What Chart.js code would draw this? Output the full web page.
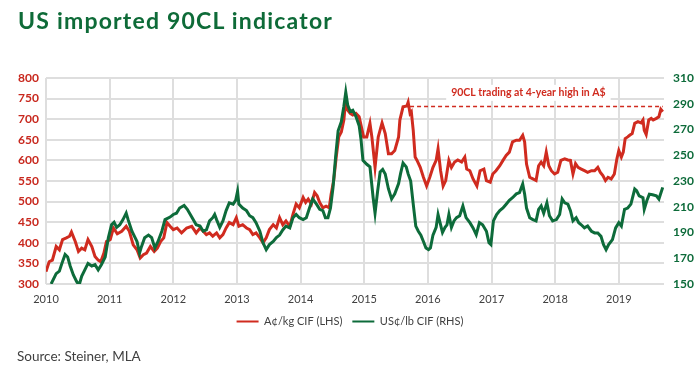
<!DOCTYPE html>
<html>
<head>
<meta charset="utf-8">
<script src="https://cdn.jsdelivr.net/npm/chart.js@4.4.1/dist/chart.umd.min.js"></script>
<style>
  body { margin: 0; background: #fff; }
  #wrap { position: relative; width: 700px; height: 373px; }
  #chartCanvas { position: absolute; left: 0; top: 0; }
  #title { position: absolute; left: 18px; top: 7px; font: bold 23px/1.2 Lato, sans-serif; letter-spacing: 1.2px; color: #0e6b38; white-space: nowrap; }
  #source { position: absolute; left: 17px; top: 348px; font: 13.5px/1.2 Lato, sans-serif; color: #404040; white-space: nowrap; }
</style>
</head>
<body>
<div id="wrap">
  <canvas id="chartCanvas" width="700" height="373"></canvas>
  <div id="title">US imported 90CL indicator</div>
  <div id="source">Source: Steiner, MLA</div>
</div>
<script>
var years = [2010, 2011, 2012, 2013, 2014, 2015, 2016, 2017, 2018, 2019];
var leftTicks = [300, 350, 400, 450, 500, 550, 600, 650, 700, 750, 800];
var rightTicks = [150, 170, 190, 210, 230, 250, 270, 290, 310];
var lastDate = 2019.71;

// A¢/kg CIF (LHS)
var audDates = [
  2010.00, 2010.05, 2010.10, 2010.16, 2010.21, 2010.26, 2010.32, 2010.37, 2010.40, 2010.46,
  2010.51, 2010.56, 2010.61, 2010.66, 2010.72, 2010.77, 2010.82, 2010.86, 2010.91, 2010.95,
  2011.01, 2011.06, 2011.12, 2011.19, 2011.26, 2011.31, 2011.37, 2011.43, 2011.48, 2011.53,
  2011.58, 2011.64, 2011.70, 2011.75, 2011.80, 2011.85, 2011.90, 2011.95, 2012.00, 2012.06,
  2012.13, 2012.21, 2012.29, 2012.36, 2012.42, 2012.47, 2012.52, 2012.57, 2012.62, 2012.68,
  2012.73, 2012.78, 2012.83, 2012.88, 2012.94, 2012.99, 2013.03, 2013.09, 2013.15, 2013.20,
  2013.25, 2013.30, 2013.36, 2013.41, 2013.46, 2013.51, 2013.57, 2013.62, 2013.67, 2013.72,
  2013.77, 2013.83, 2013.88, 2013.93, 2013.98, 2014.04, 2014.08, 2014.12, 2014.17, 2014.22,
  2014.26, 2014.30, 2014.35, 2014.40, 2014.45, 2014.48, 2014.52, 2014.56, 2014.60, 2014.64,
  2014.68, 2014.71, 2014.74, 2014.78, 2014.82, 2014.87, 2014.92, 2014.95, 2014.99, 2015.04,
  2015.09, 2015.12, 2015.17, 2015.22, 2015.28, 2015.33, 2015.38, 2015.43, 2015.48, 2015.54,
  2015.56, 2015.61, 2015.67, 2015.69, 2015.72, 2015.74, 2015.77, 2015.80, 2015.83, 2015.88,
  2015.93, 2015.98, 2016.03, 2016.08, 2016.13, 2016.16, 2016.20, 2016.24, 2016.28, 2016.33,
  2016.37, 2016.42, 2016.47, 2016.53, 2016.58, 2016.61, 2016.66, 2016.71, 2016.77, 2016.82,
  2016.88, 2016.92, 2016.98, 2017.02, 2017.07, 2017.13, 2017.18, 2017.23, 2017.28, 2017.33,
  2017.39, 2017.44, 2017.49, 2017.52, 2017.55, 2017.60, 2017.65, 2017.70, 2017.74, 2017.78,
  2017.82, 2017.86, 2017.90, 2017.94, 2017.99, 2018.04, 2018.09, 2018.15, 2018.20, 2018.24,
  2018.28, 2018.32, 2018.36, 2018.41, 2018.46, 2018.51, 2018.57, 2018.62, 2018.67, 2018.71,
  2018.75, 2018.79, 2018.83, 2018.88, 2018.93, 2018.97, 2019.00, 2019.04, 2019.07, 2019.10,
  2019.14, 2019.17, 2019.21, 2019.25, 2019.30, 2019.35, 2019.38, 2019.40, 2019.43, 2019.47,
  2019.51, 2019.54, 2019.59, 2019.63, 2019.66, 2019.69
];
var audValues = [
  330, 354, 358, 391, 383, 408, 412, 416, 426, 403,
  379, 387, 383, 408, 391, 367, 358, 354, 375, 403,
  408, 436, 422, 428, 440, 428, 395, 383, 363, 371,
  375, 391, 379, 387, 403, 412, 449, 440, 432, 436,
  424, 436, 440, 424, 436, 428, 420, 424, 416, 424,
  412, 420, 436, 449, 444, 461, 440, 444, 436, 432,
  420, 424, 412, 400, 412, 432, 444, 436, 461, 444,
  453, 440, 469, 494, 485, 510, 498, 506, 494, 522,
  514, 498, 485, 489, 485, 518, 551, 608, 657, 669,
  698, 748, 722, 714, 710, 714, 706, 685, 657, 657,
  690, 657, 583, 657, 691, 665, 616, 616, 624, 657,
  698, 730, 732, 741, 714, 718, 673, 608, 600, 583,
  559, 538, 559, 583, 600, 628, 575, 538, 551, 600,
  583, 596, 601, 596, 608, 579, 575, 555, 538, 575,
  579, 551, 547, 567, 575, 587, 600, 612, 620, 645,
  649, 649, 661, 645, 591, 559, 555, 551, 587, 596,
  587, 620, 587, 575, 567, 571, 600, 604, 601, 600,
  567, 592, 583, 579, 575, 571, 575, 575, 583, 571,
  563, 551, 559, 555, 567, 604, 624, 608, 620, 653,
  657, 661, 665, 690, 694, 691, 698, 673, 663, 698,
  702, 698, 702, 706, 724, 718
];

// US¢/lb CIF (RHS)
var usdDates = [
  2010.08, 2010.16, 2010.21, 2010.25, 2010.30, 2010.34, 2010.38, 2010.43, 2010.48, 2010.52,
  2010.56, 2010.61, 2010.66, 2010.72, 2010.77, 2010.82, 2010.87, 2010.93, 2010.98, 2011.03,
  2011.07, 2011.11, 2011.16, 2011.21, 2011.26, 2011.29, 2011.35, 2011.40, 2011.43, 2011.47,
  2011.50, 2011.55, 2011.61, 2011.66, 2011.71, 2011.76, 2011.82, 2011.87, 2011.95, 2012.00,
  2012.05, 2012.10, 2012.17, 2012.22, 2012.29, 2012.36, 2012.42, 2012.47, 2012.52, 2012.57,
  2012.62, 2012.65, 2012.68, 2012.73, 2012.78, 2012.83, 2012.88, 2012.94, 2012.98, 2013.01,
  2013.03, 2013.09, 2013.15, 2013.20, 2013.25, 2013.30, 2013.36, 2013.41, 2013.46, 2013.51,
  2013.57, 2013.62, 2013.67, 2013.72, 2013.77, 2013.83, 2013.88, 2013.93, 2013.98, 2014.04,
  2014.09, 2014.14, 2014.19, 2014.25, 2014.30, 2014.35, 2014.39, 2014.43, 2014.47, 2014.51,
  2014.55, 2014.59, 2014.64, 2014.68, 2014.71, 2014.74, 2014.78, 2014.82, 2014.87, 2014.92,
  2014.95, 2014.98, 2015.04, 2015.09, 2015.14, 2015.17, 2015.21, 2015.25, 2015.29, 2015.33,
  2015.38, 2015.43, 2015.48, 2015.54, 2015.57, 2015.61, 2015.66, 2015.69, 2015.73, 2015.77,
  2015.81, 2015.85, 2015.89, 2015.93, 2015.97, 2016.01, 2016.04, 2016.08, 2016.13, 2016.16,
  2016.20, 2016.23, 2016.27, 2016.30, 2016.33, 2016.37, 2016.41, 2016.45, 2016.50, 2016.55,
  2016.60, 2016.66, 2016.71, 2016.76, 2016.81, 2016.86, 2016.92, 2016.96, 2016.99, 2017.03,
  2017.08, 2017.13, 2017.18, 2017.23, 2017.28, 2017.33, 2017.39, 2017.44, 2017.49, 2017.52,
  2017.55, 2017.60, 2017.65, 2017.70, 2017.74, 2017.78, 2017.82, 2017.87, 2017.91, 2017.96,
  2018.02, 2018.07, 2018.11, 2018.15, 2018.20, 2018.24, 2018.28, 2018.33, 2018.37, 2018.41,
  2018.46, 2018.51, 2018.57, 2018.62, 2018.67, 2018.72, 2018.76, 2018.80, 2018.84, 2018.90,
  2018.95, 2019.00, 2019.04, 2019.09, 2019.14, 2019.19, 2019.25, 2019.28, 2019.32, 2019.38,
  2019.40, 2019.44, 2019.48, 2019.53, 2019.59, 2019.63, 2019.69
];
var usdValues = [
  150, 158, 160, 166, 173, 171, 164, 157, 152, 149,
  156, 161, 166, 164, 165, 161, 165, 171, 186, 196,
  198, 194, 196, 200, 205, 200, 191, 186, 183, 174,
  179, 186, 188, 186, 178, 183, 191, 200, 202, 204,
  205, 209, 211, 208, 202, 196, 195, 191, 192, 199,
  201.5, 204, 200, 194, 199, 207, 213, 212, 215, 222,
  212, 209, 207, 203, 201.5, 197.6, 191, 182, 176.7, 180.6,
  183, 186, 188, 192, 195, 193.6, 201.5, 204, 201.5, 200,
  201.5, 209, 216, 212, 208, 207, 201.5, 201.5, 209, 225,
  248.5, 269, 276, 288, 299, 289, 284, 285, 280, 273,
  262, 246, 243, 241, 217, 205, 222, 237, 239, 235.5,
  224, 216, 220, 228, 235.5, 244, 241, 235.5, 230, 212,
  195, 191, 188, 183, 178, 176.7, 178, 188, 194, 204,
  196, 190, 194, 196, 204, 194, 199, 201.5, 203, 210.6,
  201.5, 197.6, 193.6, 188.4, 197.6, 196, 191, 182, 180.6, 199,
  204, 207, 209, 212, 215, 217, 220, 221, 227.6, 220,
  209, 201.5, 200, 199, 208, 210.6, 205, 213, 203, 199,
  200, 204, 216, 213, 212, 207, 199, 201.5, 197.6, 196,
  193.6, 195, 191, 189.7, 189.7, 187, 180.6, 176.7, 180.6, 184.5,
  193.6, 197.6, 195, 208, 209, 212, 223.7, 222.4, 218.5, 217,
  208, 214.6, 219.8, 219.3, 218.5, 216, 225
];

// dashed reference line: 4-year high in A$
var highDates = [2015.72, 2019.69];
var highValues = [731, 731];
var highText = '90CL trading at 4-year high in A$';
var highTextAt = [2017.58, 764];

var red = '#d02b1f';
var green = '#0d6b3a';

function toPoints(xs, ys) {
  return xs.map(function (x, i) { return { x: x, y: ys[i] }; });
}

var highLabelPlugin = {
  id: 'highLabel',
  beforeDatasetsDraw: function (chart) {
    var ctx = chart.ctx;
    var x = chart.scales.x.getPixelForValue(highTextAt[0]);
    var y = chart.scales.yLeft.getPixelForValue(highTextAt[1]);
    ctx.save();
    ctx.font = 'bold 10.5px Lato, sans-serif';
    var w = ctx.measureText(highText).width;
    ctx.fillStyle = '#ffffff';
    ctx.fillRect(x - w / 2 - 5, y - 8, w + 10, 16);
    ctx.fillStyle = red;
    ctx.textAlign = 'center';
    ctx.textBaseline = 'middle';
    ctx.fillText(highText, x, y);
    ctx.restore();
  }
};

function drawChart() {
  new Chart(document.getElementById('chartCanvas').getContext('2d'), {
    type: 'line',
    data: {
      datasets: [{
        label: 'A¢/kg CIF (LHS)',
        data: toPoints(audDates, audValues),
        yAxisID: 'yLeft',
        borderColor: red,
        backgroundColor: red,
        borderWidth: 3,
        pointRadius: 0,
        tension: 0,
        order: 2
      }, {
        label: 'US¢/lb CIF (RHS)',
        data: toPoints(usdDates, usdValues),
        yAxisID: 'yRight',
        borderColor: green,
        backgroundColor: green,
        borderWidth: 3,
        pointRadius: 0,
        tension: 0,
        order: 1
      }, {
        label: 'high',
        data: toPoints(highDates, highValues),
        yAxisID: 'yLeft',
        borderColor: red,
        borderWidth: 1.5,
        borderDash: [4, 3],
        pointRadius: 0,
        order: 3
      }]
    },
    options: {
      responsive: false,
      animation: false,
      layout: { padding: { top: 78, bottom: 36, left: 0, right: 0 } },
      scales: {
        x: {
          type: 'linear',
          min: years[0],
          max: lastDate,
          afterBuildTicks: function (axis) {
            axis.ticks = years.map(function (v) { return { value: v }; });
          },
          afterFit: function (axis) { axis.height = 22; },
          grid: { color: '#dedede', lineWidth: 2, drawTicks: false },
          border: { display: false },
          ticks: {
            padding: 9,
            color: '#404040',
            font: { family: 'Lato', size: 11 },
            callback: function (v) { return String(v); }
          }
        },
        yLeft: {
          position: 'left',
          min: leftTicks[0],
          max: leftTicks[leftTicks.length - 1],
          afterFit: function (axis) { axis.width = 46; },
          grid: { color: '#dedede', lineWidth: 2, drawTicks: false },
          border: { display: false },
          ticks: {
            stepSize: leftTicks[1] - leftTicks[0],
            padding: 7,
            color: '#c8281e',
            font: { family: 'Lato', size: 12, weight: 'bold' }
          }
        },
        yRight: {
          position: 'right',
          min: rightTicks[0],
          max: rightTicks[rightTicks.length - 1],
          afterFit: function (axis) { axis.width = 36; },
          grid: { display: false, drawTicks: false },
          border: { display: false },
          ticks: {
            stepSize: rightTicks[1] - rightTicks[0],
            padding: 9,
            color: green,
            font: { family: 'Lato', size: 12, weight: 'bold' }
          }
        }
      },
      plugins: {
        legend: {
          position: 'bottom',
          labels: {
            boxWidth: 22,
            boxHeight: 2,
            padding: 10,
            color: '#404040',
            font: { family: 'Lato', size: 11 },
            generateLabels: function (chart) {
              return Chart.defaults.plugins.legend.labels.generateLabels(chart)
                .filter(function (item) { return item.datasetIndex < 2; })
                .sort(function (a, b) { return a.datasetIndex - b.datasetIndex; })
                .map(function (item) {
                  item.lineWidth = 0;
                  item.lineDash = [];
                  item.fillStyle = item.strokeStyle;
                  return item;
                });
            }
          }
        },
        tooltip: { enabled: false }
      }
    },
    plugins: [highLabelPlugin]
  });
}

document.addEventListener('DOMContentLoaded', function () {
  drawChart();
});
</script>
</body>
</html>
